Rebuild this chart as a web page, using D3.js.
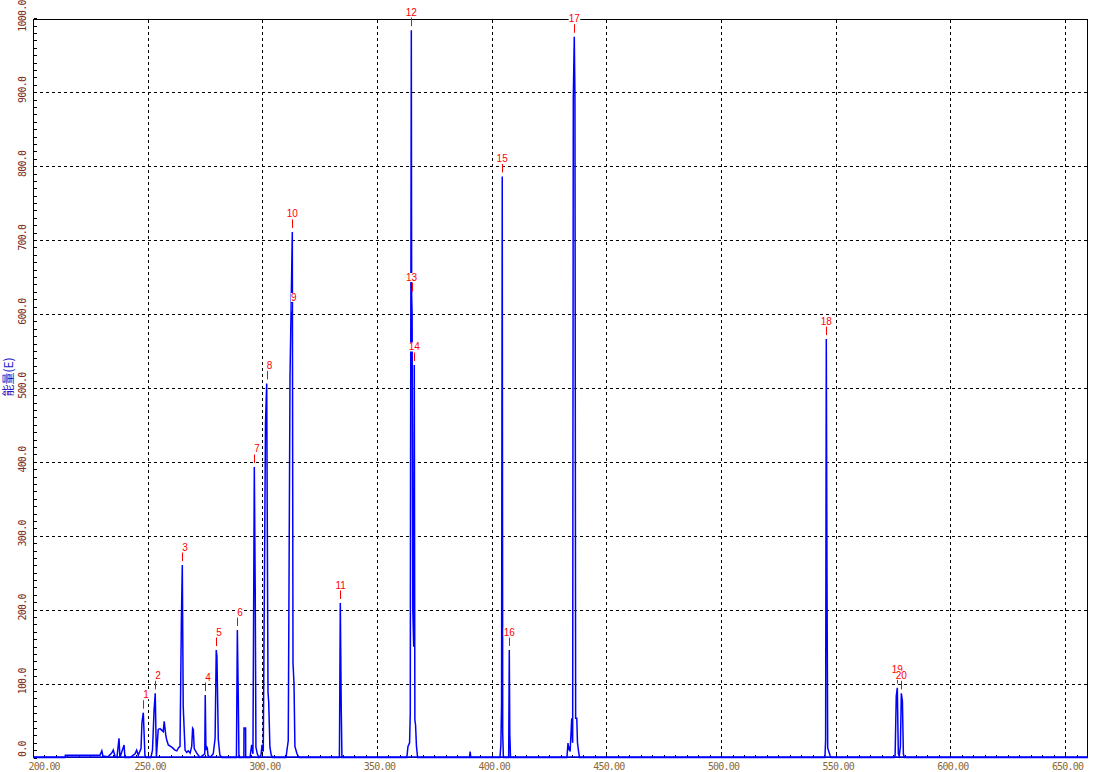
<!DOCTYPE html>
<html><head><meta charset="utf-8">
<script src="https://cdn.jsdelivr.net/npm/d3@7"></script>
<style>
html,body{margin:0;padding:0;background:#fff;}
svg{display:block;}
</style></head>
<body>
<svg id="chart" width="1093" height="772"></svg>
<script>
// ---- data ----
const wavelength = [
  200, 214, 214.1, 229.2, 230.0, 230.5, 232.7, 234.3, 235.0, 235.8, 236.6, 237.5, 237.9, 239.7, 240.1, 242.3,
  244.5, 245.2, 245.9, 247.1, 247.5, 248.1, 248.8, 249.3, 251.4, 252.1, 252.8, 253.3, 253.8, 253.9,
  254.6, 255.4, 256.1, 256.8, 257.2, 257.9, 258.3, 259.0, 260.5, 261.2, 261.9, 262.7, 263.4, 264.1,
  264.7, 265.1, 265.5, 266.3, 267.0, 267.7, 268.5, 269.2, 269.6, 269.9, 270.3, 271.4, 272.8,
  274.9, 275.1, 275.4, 275.7, 276.0, 276.3, 277.2,
  278.6, 279.4, 279.9, 280.2, 280.8, 281.5, 282.4,
  288.7, 289.1, 289.5, 289.8,
  291.95, 292.0, 292.7, 292.75,
  294.6, 295.35, 295.9, 296.5, 296.9, 297.2, 297.8, 298.5,
  299.4, 299.85, 300.4, 301.37, 301.9, 302.46, 302.77, 303.3, 303.9, 304.6,
  310.3, 311.3, 312.06, 312.49, 313.06, 313.36, 313.8, 314.2, 315.1, 316.0,
  333.6, 333.99, 334.4, 334.7,
  363.0, 363.5, 364.2, 364.5, 364.6, 364.95, 365.1, 365.3, 365.6, 366.0, 366.25, 366.5, 366.8, 367.2, 367.7,
  390.3, 390.6, 390.9,
  403.6, 404.0, 404.3, 404.6, 404.8, 405.1,
  407.4, 407.67, 407.9, 408.2,
  432.8, 433.27, 433.6, 433.8, 434.2, 434.9, 435.3, 435.58, 436.01, 436.3, 436.6, 437.1, 437.4, 437.8, 438.3,
  545.3, 545.6, 545.89, 546.2, 546.5, 547.5, 548.0,
  575.5, 575.9, 576.4, 576.85, 577.3, 577.7, 578.2, 578.6, 579.08, 579.5, 579.9,
  660
];
const intensity = [
  0, 0, 3, 3, 9, 2, 1, 6, 10, 1, 0, 26, 0, 17, 0, 0,
  5, 10, 3, 12, 47, 60.6, 3, 0, 0, 10, 65, 86.8, 0, 5,
  38, 39, 37, 35, 49, 30, 24, 17, 14, 12, 10, 9, 13, 15,
  186, 260.3, 69, 10, 7, 9, 6, 15, 39.5, 38, 12, 6, 0,
  5, 84.5, 10, 14.6, 13, 3, 0,
  5, 26, 145.4, 137, 24, 3, 0,
  0, 172.4, 83, 0,
  0, 40, 40, 0,
  0, 17, 5, 393, 224, 14, 5, 0,
  3, 17, 8, 452, 506, 89, 75, 14, 3, 0,
  0, 23, 515, 598, 711, 128, 100, 15, 5, 0,
  0, 209, 66.5, 0,
  0, 15, 20, 60, 346, 984, 625, 600, 200, 150, 531, 51, 44, 15, 0,
  0, 8, 0,
  0, 17, 71, 786, 33, 0,
  0, 145.4, 32, 0,
  0, 19.6, 10, 15, 8, 53, 20, 894, 975, 894, 53, 53, 20, 10, 0,
  0, 23.6, 566, 242, 13, 3, 0,
  0, 3, 83, 94.4, 5, 2, 14.6, 86.8, 76.4, 5, 0,
  0
];
const peakIds   = ["1","2","3","4","5","6","7","8","9","10","11","12","13","14","15","16","17","18","19","20"];
const peakWave  = [248.1, 253.3, 265.1, 275.1, 279.9, 289.1, 296.5, 301.9, 312.49, 313.06, 333.99, 364.95, 365.1, 366.25, 404.6, 407.67, 436.01, 545.89, 576.85, 578.6];
const peakValue = [60.6, 86.8, 260.3, 84.5, 145.4, 172.4, 393, 506, 598, 711, 209, 984, 625, 531, 786, 145.4, 975, 566, 94.4, 86.8];
const xTicks = [200, 250, 300, 350, 400, 450, 500, 550, 600, 650];
const yTicks = [0, 100, 200, 300, 400, 500, 600, 700, 800, 900, 1000];
const yTitle = "能量(E)";

// ---- layout ----
const svg = d3.select("#chart");
const L = 33.5, R = 1087.5, T = 19.5, B = 757.5;
const x = d3.scaleLinear().domain([200, 660]).range([33, 1088]);
const y = d3.scaleLinear().domain([0, 1000]).range([B, 18.3]);

svg.append("rect").attr("width", 1093).attr("height", 772).attr("fill", "#fff");

// grid
const grid = svg.append("g").attr("stroke", "#000").attr("stroke-width", 1).attr("stroke-dasharray", "3,3").attr("shape-rendering", "crispEdges");
grid.selectAll("line.v").data(xTicks.filter(d => d > 200)).enter().append("line")
  .attr("x1", d => Math.round(x(d)) + 0.5).attr("x2", d => Math.round(x(d)) + 0.5)
  .attr("y1", T).attr("y2", B);
grid.selectAll("line.h").data(yTicks.filter(d => d > 0 && d < 1000)).enter().append("line")
  .attr("y1", d => Math.round(y(d)) + 0.5).attr("y2", d => Math.round(y(d)) + 0.5)
  .attr("x1", L).attr("x2", R);

// frame
svg.append("rect").attr("x", L).attr("y", T).attr("width", R - L).attr("height", B - T)
  .attr("fill", "none").attr("stroke", "#000").attr("stroke-width", 1).attr("shape-rendering", "crispEdges");

// minor ticks
const ticksG = svg.append("g").attr("stroke", "#000").attr("stroke-width", 1).attr("shape-rendering", "crispEdges");
ticksG.selectAll("line.yt").data(d3.range(0, 1001, 10)).enter().append("line")
  .attr("x1", L).attr("x2", L + 3)
  .attr("y1", d => Math.round(y(d)) + 0.5).attr("y2", d => Math.round(y(d)) + 0.5);
ticksG.selectAll("line.xt").data(d3.range(200, 660, 5)).enter().append("line")
  .attr("y1", B).attr("y2", B - 3)
  .attr("x1", d => Math.round(x(d)) + 0.5).attr("x2", d => Math.round(x(d)) + 0.5);

// tick labels
const monoFont = "'DejaVu Sans Mono', 'Liberation Mono', monospace";
svg.append("g").selectAll("text").data(xTicks).enter().append("text")
  .attr("x", d => d === 200 ? x(d) - 4.5 : x(d) + 2.5)
  .attr("y", 769.5)
  .attr("text-anchor", d => d === 200 ? "start" : "middle")
  .attr("font-family", monoFont).attr("font-size", "10px").attr("letter-spacing", "-0.8px")
  .attr("fill", "#8a6a3a")
  .text(d => d3.format(".2f")(d));

svg.append("g").selectAll("text").data(yTicks).enter().append("text")
  .attr("transform", d => `translate(25.5,${d === 0 ? 757 : y(d) - 2.3}) rotate(-90)`)
  .attr("text-anchor", d => d === 0 ? "start" : "middle")
  .attr("font-family", monoFont).attr("font-size", "10px").attr("letter-spacing", "-0.8px")
  .attr("fill", "#7a2a20")
  .text(d => d3.format(".1f")(d));

// y title
svg.append("text")
  .attr("transform", "translate(12.5,377) rotate(-90)")
  .attr("text-anchor", "middle")
  .attr("font-family", "'Noto Sans CJK SC', sans-serif").attr("font-size", "12px")
  .attr("fill", "#2020c8")
  .text(yTitle);

// spectrum
const pts = wavelength.map((w, i) => [w, intensity[i]]);
const line = d3.line().x(d => x(d[0])).y(d => y(d[1]));
svg.append("path").datum(pts).attr("d", line)
  .attr("fill", "none").attr("stroke", "#0000ff").attr("stroke-width", 1.5);
svg.append("line").attr("x1", L).attr("x2", R).attr("y1", B - 0.5).attr("y2", B - 0.5)
  .attr("stroke", "#0000ff").attr("stroke-width", 1.5);

// peak labels
const lab = svg.append("g");
peakIds.forEach((id, i) => {
  const px = x(peakWave[i]);
  const py = y(peakValue[i]);
  const g = lab.append("g");
  const t = g.append("text")
    .attr("x", px + 5.5).attr("y", py - 14.5)
    .attr("text-anchor", "end")
    .attr("font-family", "'Liberation Sans', Arial, sans-serif").attr("font-size", "10px")
    .attr("fill", "#ff0000")
    .text(id);
  const bb = t.node().getBBox();
  g.insert("rect", "text").attr("x", bb.x).attr("y", bb.y + 1).attr("width", bb.width).attr("height", bb.height - 2).attr("fill", "#fff");
  g.append("line").attr("x1", Math.round(px) + 0.5).attr("x2", Math.round(px) + 0.5)
    .attr("y1", py - 12.5).attr("y2", py - 4)
    .attr("stroke", "#ff0000").attr("stroke-width", 1);
});
</script>
</body></html>
